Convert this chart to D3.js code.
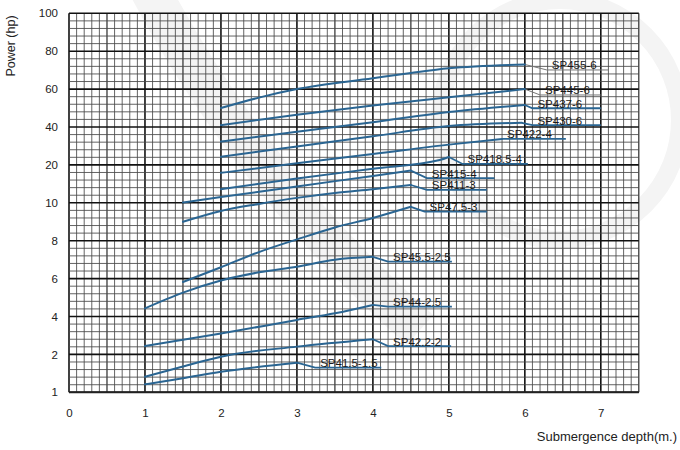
<!DOCTYPE html>
<html>
<head>
<meta charset="utf-8">
<script src="https://cdn.jsdelivr.net/npm/d3@7/dist/d3.min.js"></script>
<style>
  html, body { margin: 0; padding: 0; background: #fff; }
  svg { display: block; font-family: "Liberation Sans", Arial, sans-serif; }
</style>
</head>
<body>
<svg id="chart" width="680" height="450"></svg>
<script>
// ---------- data ----------
const xTickValues = [0, 1, 2, 3, 4, 5, 6, 7];
const yTickValues = [1, 2, 4, 6, 8, 10, 20, 40, 60, 80, 100];

const seriesNames = ["SP455-6", "SP445-6", "SP437-6", "SP430-6", "SP422-4", "SP418.5-4",
  "SP415-4", "SP411-3", "SP47.5-3", "SP45.5-2.5", "SP44-2.5", "SP42.2-2", "SP41.5-1.5"];

// rising part of each curve: [depth, power]
const sp455_6  = [[2, 50], [2.5, 55.5], [3, 60], [4, 65.7], [4.5, 68.5], [5, 71], [6, 73]];
const sp445_6  = [[2, 41], [3, 46.5], [4, 51.3], [5, 55.7], [6, 60]];
const sp437_6  = [[2, 32.3], [3, 37.5], [4, 42.5], [5, 47.9], [6, 51.6]];
const sp430_6  = [[2, 24.3], [3, 29.7], [4, 35.1], [5, 40.5], [5.96, 42.2]];
const sp422_4  = [[2, 17.9], [3, 20.9], [4, 25.7], [5, 30.7], [5.7, 33.7]];
const sp418_5_4 = [[2, 13.6], [3, 16.4], [4, 19.0], [4.88, 22.6], [5, 24.2]];
const sp415_4  = [[1.5, 10.1], [2, 11.5], [3, 14.3], [4, 17.1], [4.5, 18.5]];
const sp411_3  = [[1.5, 9.0], [2, 9.57], [2.5, 9.94], [3, 11.3], [3.5, 12.6], [4, 13.6], [4.5, 14.7]];
const sp47_5_3 = [[1.5, 5.82], [2, 6.6], [2.5, 7.4], [3, 8.07], [3.5, 8.7], [4, 9.2], [4.5, 9.79]];
const sp45_5_2_5 = [[1, 4.43], [1.5, 5.26], [2, 5.9], [2.5, 6.33], [3, 6.63], [3.5, 7.0], [4, 7.15]];
const sp44_2_5 = [[1, 2.44], [2, 3.1], [3, 3.82], [3.5, 4.17], [4, 4.61]];
const sp42_2_2 = [[1, 1.41], [1.5, 1.68], [2, 1.94], [3, 2.41], [4, 2.8]];
const sp41_5_1_5 = [[1, 1.21], [1.5, 1.37], [2, 1.54], [3, 1.78]];

const risingCurves = [sp455_6, sp445_6, sp437_6, sp430_6, sp422_4, sp418_5_4,
  sp415_4, sp411_3, sp47_5_3, sp45_5_2_5, sp44_2_5, sp42_2_2, sp41_5_1_5];

// after the peak: depth where the flat part begins, flat power level, depth where it ends
const dropX    = [6.29, 6.2, 6.1, 6.1, 5.7, 5.18, 4.71, 4.71, 4.68, 4.2, 4.2, 4.2, 3.24];
const flatY    = [70.1, 56.9, 49.9, 41, 33.7, 20.5, 16.5, 13.4, 9.53, 6.9, 4.52, 2.44, 1.65];
const flatEndX = [7.1, 7.0, 7.0, 7.0, 6.54, 6.04, 5.6, 5.5, 5.5, 5.04, 5.04, 5.03, 4.11];

// ---------- layout ----------
const W = 680, H = 450;
const mLeft = 69, mRight = 638.8, mTop = 13.3, mBottom = 392.3;
const xMax = 7.5;

const svg = d3.select("#chart");
svg.append("rect").attr("width", W).attr("height", H).attr("fill", "#fff");

// faint watermark
const wm = svg.append("g").attr("fill", "none").attr("stroke", "#f4f4f4");
wm.append("path").attr("d", "M150,-10 Q250,180 420,330").attr("stroke-width", 40);
wm.append("circle").attr("cx", 560).attr("cy", 120).attr("r", 120).attr("stroke-width", 18);

const x = d3.scaleLinear().domain([0, xMax]).range([mLeft, mRight]);
const step = (mBottom - mTop) / (yTickValues.length - 1);
const y = d3.scaleLinear()
  .domain(yTickValues)
  .range(yTickValues.map((d, i) => mBottom - i * step));

// ---------- grid ----------
const grid = svg.append("g");
d3.range(0, Math.round(xMax * 10) + 1).forEach(i => {
  const v = i / 10;
  const major = i % 10 === 0, half = i % 5 === 0;
  grid.append("line")
    .attr("x1", x(v)).attr("x2", x(v))
    .attr("y1", mTop).attr("y2", mBottom)
    .attr("stroke", major ? "#111" : half ? "#2a2a2a" : "#484848")
    .attr("stroke-width", major ? 1.6 : half ? 1.2 : 0.85);
});
const hVals = [];
for (let i = 0; i < yTickValues.length - 1; i++) {
  for (let k = 0; k < 5; k++) {
    hVals.push({ v: yTickValues[i] + (yTickValues[i + 1] - yTickValues[i]) * k / 5, major: k === 0 });
  }
}
hVals.push({ v: yTickValues[yTickValues.length - 1], major: true });
hVals.forEach(h => {
  grid.append("line")
    .attr("x1", mLeft).attr("x2", mRight)
    .attr("y1", y(h.v)).attr("y2", y(h.v))
    .attr("stroke", h.major ? "#111" : "#484848")
    .attr("stroke-width", h.major ? 1.6 : 0.85);
});
grid.append("line").attr("x1", mLeft).attr("x2", mRight).attr("y1", mBottom).attr("y2", mBottom)
  .attr("stroke", "#222").attr("stroke-width", 2);

// ---------- axes ----------
const xAxis = svg.append("g")
  .attr("transform", `translate(0,${mBottom + 14})`)
  .call(d3.axisBottom(x).tickValues(xTickValues).tickSize(0).tickFormat(d3.format("d")));
xAxis.select(".domain").remove();
xAxis.selectAll("text").attr("font-size", 11.5).attr("fill", "#222")
  .attr("font-family", "Liberation Sans, Arial, sans-serif");

const yAxis = svg.append("g")
  .attr("transform", `translate(${mLeft},0)`)
  .call(d3.axisLeft(y).tickValues(yTickValues).tickSize(0).tickPadding(11).tickFormat(d3.format("d")));
yAxis.select(".domain").remove();
yAxis.selectAll("text").attr("font-size", 11.5).attr("fill", "#222")
  .attr("font-family", "Liberation Sans, Arial, sans-serif");

svg.append("text")
  .attr("transform", "translate(15,46) rotate(-90)")
  .attr("text-anchor", "middle")
  .attr("font-size", 12.5).attr("fill", "#222")
  .text("Power (hp)");

svg.append("text")
  .attr("x", 677).attr("y", 441)
  .attr("text-anchor", "end")
  .attr("font-size", 13).attr("fill", "#222")
  .text("Submergence depth(m.)");

// ---------- curves ----------
const curveColor = "#2a6592";
const lineRise = d3.line().x(d => x(d[0])).y(d => y(d[1])).curve(d3.curveMonotoneX);
const lineFlat = d3.line().x(d => x(d[0])).y(d => y(d[1]));

const curves = svg.append("g").attr("fill", "none");
risingCurves.forEach((pts, i) => {
  const peak = pts[pts.length - 1];
  const thin = i < 2;
  const tail = [peak, [dropX[i], flatY[i]], [flatEndX[i], flatY[i]]];
  curves.append("path")
    .attr("d", lineFlat(tail))
    .attr("stroke", thin ? "#777" : curveColor)
    .attr("stroke-width", thin ? 1 : 1.8);
  curves.append("path")
    .attr("d", lineRise(pts))
    .attr("stroke", curveColor)
    .attr("stroke-width", 2)
    .attr("stroke-linecap", "round");
  svg.append("text")
    .attr("x", x(dropX[i]) + 5)
    .attr("y", y(flatY[i]) - 0.5)
    .attr("font-size", 11.5)
    .attr("fill", "#1a1a1a")
    .text(seriesNames[i]);
});
</script>
</body>
</html>
